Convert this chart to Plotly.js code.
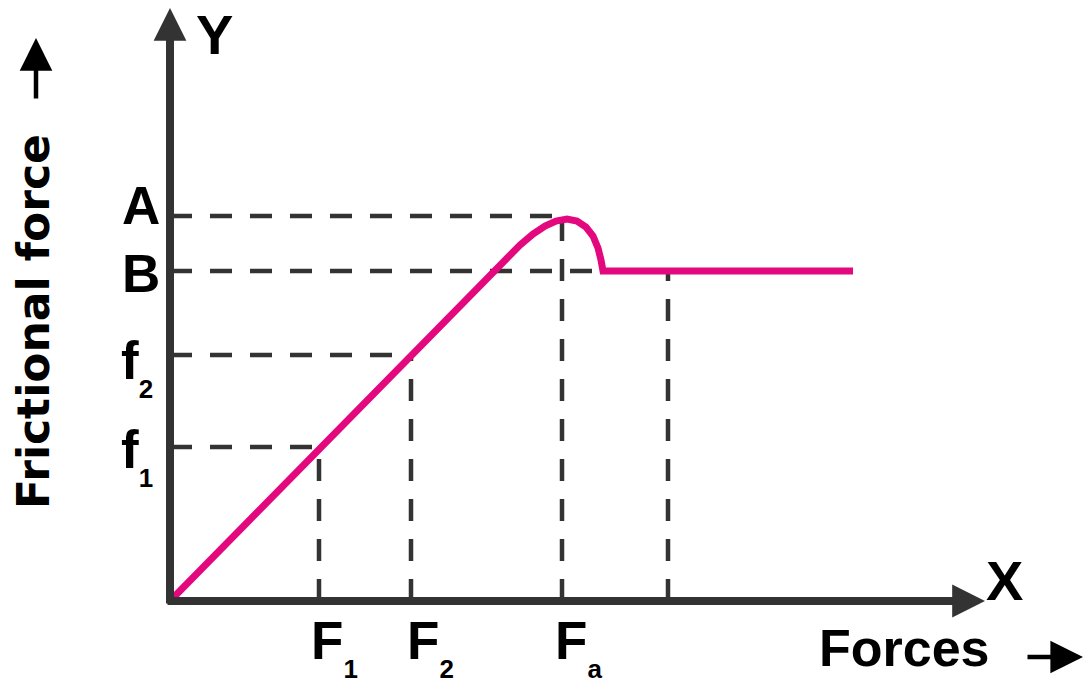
<!DOCTYPE html>
<html>
<head>
<meta charset="utf-8">
<script src="https://cdn.plot.ly/plotly-3.0.1.min.js"></script>
<style>html,body{margin:0;padding:0;background:#fff;}#chart{width:1084px;height:685px;}</style>
</head>
<body>
<div id="chart"></div>
<script>
// ---- data (schematic units) ----
const forceLevels = { F1: 149, F2: 241, Fa: 392, Fk: 498 };
const frictionLevels = { f1: 154, f2: 246, B: 330, A: 385 };

// friction curve: static region rising linearly, peak (limiting friction), drop to kinetic
const curveX = [0, 335, 350, 363, 375, 386, 397, 407, 416, 423, 428, 431, 433, 683];
const curveY = [0, 341, 356, 367, 375, 380, 382, 380, 374, 365, 353, 341, 330, 330];

const xTickLabels = ['F<sub><sub>1</sub></sub>', 'F<sub><sub>2</sub></sub>', 'F<sub><sub>a</sub></sub>'];
const yTickLabels = ['A', 'B', 'f<sub><sub>2</sub></sub>', 'f<sub><sub>1</sub></sub>'];

const axisEnds = { x: 815, y: 593 };

// ---- styles ----
const dashColor = '#333333';
const axisColor = '#333333';
const pink = '#e4087f';
const dashStyle = { color: dashColor, width: 4.5, dash: '22px,18px' };
const labelFont = { family: 'Liberation Sans, Arial, sans-serif', size: 53, color: '#000', weight: 700 };

function seg(x, y) {
  return { x: x, y: y, type: 'scatter', mode: 'lines', line: dashStyle, hoverinfo: 'skip', showlegend: false };
}

const traces = [
  seg([0, forceLevels.Fa], [frictionLevels.A, frictionLevels.A]),
  seg([0, forceLevels.Fk], [frictionLevels.B, frictionLevels.B]),
  seg([0, forceLevels.F2], [frictionLevels.f2, frictionLevels.f2]),
  seg([0, forceLevels.F1], [frictionLevels.f1, frictionLevels.f1]),
  seg([forceLevels.F1, forceLevels.F1], [0, frictionLevels.f1]),
  seg([forceLevels.F2, forceLevels.F2], [0, frictionLevels.f2]),
  seg([forceLevels.Fa, forceLevels.Fa], [0, frictionLevels.A]),
  seg([forceLevels.Fk, forceLevels.Fk], [0, frictionLevels.B]),
  { x: curveX, y: curveY, type: 'scatter', mode: 'lines',
    line: { color: pink, width: 7 }, hoverinfo: 'skip', showlegend: false }
];

function arrowAnn(tailX, tailY, tipX, tipY, width, size, color) {
  return { x: tipX, y: tipY, ax: tailX, ay: tailY, xref: 'x', yref: 'y', axref: 'x', ayref: 'y',
    text: '', showarrow: true, arrowhead: 2, arrowsize: size, arrowwidth: width,
    arrowcolor: color || axisColor, standoff: 0, startstandoff: 0 };
}
function textAnn(text, x, y, xshift, yshift, font, extra) {
  return Object.assign({ text: text, x: x, y: y, xref: 'x', yref: 'y', showarrow: false,
    xanchor: 'center', yanchor: 'middle', xshift: xshift, yshift: yshift, font: font }, extra || {});
}

const annotations = [
  // axes
  arrowAnn(0, -4, 0, axisEnds.y, 8, 0.82),
  arrowAnn(-4, 0, axisEnds.x, 0, 8, 0.82),
  // axis letters
  textAnn('Y', 0, axisEnds.y, 44, -26, Object.assign({}, labelFont, { size: 56 })),
  textAnn('X', axisEnds.x, 0, 19, 21, Object.assign({}, labelFont, { size: 56 })),
  // y tick labels
  textAnn(yTickLabels[0], 0, frictionLevels.A, -29, 11, labelFont),
  textAnn(yTickLabels[1], 0, frictionLevels.B, -29, -2, labelFont),
  textAnn(yTickLabels[2], 0, frictionLevels.f2, -33, -12, labelFont),
  textAnn(yTickLabels[3], 0, frictionLevels.f1, -33, -9, labelFont),
  // x tick labels
  textAnn(xTickLabels[0], forceLevels.F1, 0, 15, -46, labelFont),
  textAnn(xTickLabels[1], forceLevels.F2, 0, 19, -46, labelFont),
  textAnn(xTickLabels[2], forceLevels.Fa, 0, 16, -46, labelFont),
  // axis titles
  textAnn('Forces', axisEnds.x, 0, -81, -47, Object.assign({}, labelFont, { size: 52 })),
  arrowAnn(856, -56, 913, -56, 4.5, 1.45, '#000'),
  textAnn('Frictional force', -137, 279, 0, 0,
    { family: 'DejaVu Sans, sans-serif', size: 44, color: '#000', weight: 700 }, { textangle: -90 }),
  arrowAnn(-134, 501, -134, 563, 4.5, 1.45, '#000')
];
annotations.forEach(a => { if (a.showarrow) { a.font = { size: 1 }; } });

const layout = {
  width: 1084, height: 685,
  margin: { l: 0, r: 0, t: 0, b: 0 },
  paper_bgcolor: '#fff', plot_bgcolor: '#fff',
  xaxis: { range: [-170, 914], visible: false, fixedrange: true },
  yaxis: { range: [-84, 601], visible: false, fixedrange: true },
  annotations: annotations,
  showlegend: false
};

Plotly.newPlot('chart', traces, layout, { staticPlot: true, displayModeBar: false });
</script>
</body>
</html>
